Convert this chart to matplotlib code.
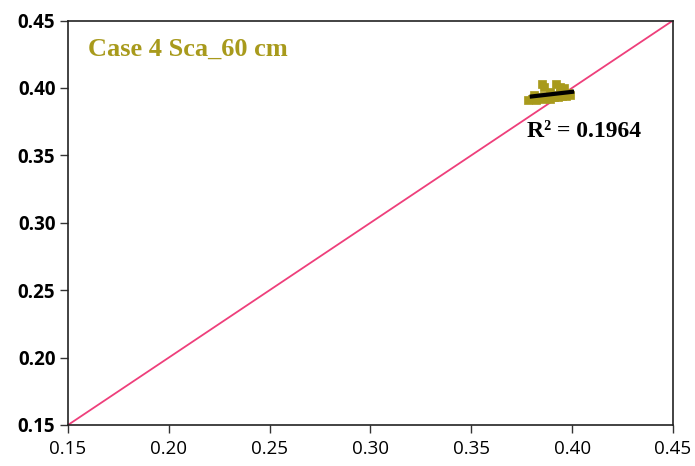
import numpy as np
import matplotlib.pyplot as plt

x_obs = [0.378, 0.380, 0.382, 0.384, 0.385, 0.386, 0.388, 0.389, 0.390, 0.391,
         0.392, 0.393, 0.394, 0.395, 0.396, 0.397, 0.398, 0.399, 0.385, 0.386,
         0.392, 0.394, 0.396, 0.381, 0.389]
y_sim = [0.391, 0.392, 0.391, 0.393, 0.392, 0.394, 0.393, 0.392, 0.395, 0.393,
         0.394, 0.393, 0.396, 0.394, 0.395, 0.394, 0.396, 0.395, 0.403, 0.401,
         0.403, 0.401, 0.400, 0.395, 0.397]
title = 'Case 4 Sca_60 cm'
r2_text = 'R² = 0.1964'
ticks = [0.15, 0.20, 0.25, 0.30, 0.35, 0.40, 0.45]

olive = '#A89A1C'

fig = plt.figure(figsize=(6.95, 4.66), dpi=100)
ax = fig.add_axes([0.0978, 0.088, 0.8705, 0.868])

# 1:1 line
ax.plot([0.15, 0.45], [0.15, 0.45], color='#EE3F7B', lw=1.3, zorder=2)

ax.scatter(x_obs, y_sim, s=30, marker='s', color=olive, edgecolor=olive, lw=0.5, zorder=3)

# linear trend
k, b = np.polyfit(x_obs, y_sim, 1)
xs = np.array([0.380, 0.400])
ax.plot(xs, k * xs + b, color='black', lw=3, zorder=4)

ax.text(0.033, 0.93, title, transform=ax.transAxes, fontsize=19, fontweight='bold',
        family='Liberation Serif', color=olive, va='center')
ax.text(0.406, 0.368, r2_text, fontsize=17, fontweight='bold',
        family='Liberation Serif', color='black', ha='center', va='center')

ax.set_xlim(0.15, 0.45)
ax.set_ylim(0.15, 0.45)
ax.set_xticks(ticks)
ax.set_yticks(ticks)
ax.set_xticklabels([f'{t:.2f}' for t in ticks], fontsize=13.5, family='Open Sans')
ax.set_yticklabels([f'{t:.2f}' for t in ticks], fontsize=13.5, fontweight='bold', family='Open Sans')
ax.tick_params(direction='out', length=6, width=1, color='#333333')
ax.tick_params(axis='x', pad=5)
ax.tick_params(axis='y', pad=3)
for s in ax.spines.values():
    s.set_linewidth(1.2)
    s.set_color('#222222')

fig.savefig('out.png', dpi=100)
